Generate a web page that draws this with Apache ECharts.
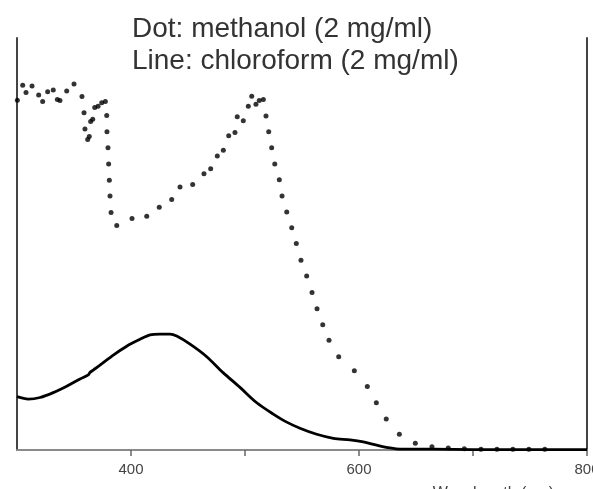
<!DOCTYPE html>
<html>
<head>
<meta charset="utf-8">
<script src="https://cdn.jsdelivr.net/npm/echarts@6/dist/echarts.min.js"></script>
<style>
  html, body { margin: 0; padding: 0; background: #fff; }
  #chart { width: 593px; height: 489px; }
</style>
</head>
<body>
<div id="chart"></div>
<script>
// 标题文字
var titleLines = ['Dot: methanol (2 mg/ml)', 'Line: chloroform (2 mg/ml)']
var axisName = 'Wavelength (nm)'

// 甲醇 (点) 波长 / 吸光度
var methanolX = [300.3, 305.0, 307.9, 313.2, 319.0, 322.5, 326.9, 331.8, 335.4, 337.7,
    343.6, 350.0, 357.0, 358.8, 359.6, 362.0, 363.4, 364.6, 366.4, 368.2,
    371.1, 374.3, 377.5, 378.7, 378.9, 379.8, 380.4, 381.0, 381.6, 382.5,
    387.5, 400.9, 413.8, 424.8, 435.7, 443.0, 454.1, 464.0, 469.9, 475.7,
    481.0, 485.7, 491.2, 493.2, 498.5, 502.9, 505.9, 509.6, 512.5, 516.1,
    518.4, 520.8, 523.4, 526.1, 530.1, 532.5, 536.6, 541.0, 545.0, 549.1,
    554.1, 558.8, 563.2, 568.2, 573.7, 582.2, 595.9, 607.3, 615.2, 623.9,
    635.4, 649.4, 664.0, 678.3, 692.4, 707, 721, 735, 749, 763]
var methanolY = [0.866, 0.903, 0.885, 0.901, 0.879, 0.863, 0.887, 0.891, 0.868, 0.865,
    0.889, 0.906, 0.875, 0.835, 0.795, 0.769, 0.776, 0.813, 0.819, 0.848,
    0.851, 0.860, 0.863, 0.828, 0.788, 0.748, 0.708, 0.668, 0.629, 0.588,
    0.556, 0.573, 0.579, 0.601, 0.620, 0.651, 0.657, 0.684, 0.696, 0.728,
    0.742, 0.778, 0.786, 0.825, 0.815, 0.851, 0.876, 0.856, 0.865, 0.868,
    0.827, 0.788, 0.748, 0.708, 0.669, 0.629, 0.589, 0.550, 0.511, 0.470,
    0.431, 0.390, 0.350, 0.310, 0.272, 0.231, 0.196, 0.157, 0.117, 0.077,
    0.039, 0.017, 0.008, 0.005, 0.003, 0.002, 0.002, 0.002, 0.002, 0.002]

// 氯仿 (线) 波长 / 吸光度
var chloroX = [300, 309.9, 320.2, 331.8, 343.6, 355.3, 362.5, 364.0, 366.9, 372.8,
    384.5, 396.2, 407.9, 416.7, 425.4, 434.2, 440.1, 451.8, 466.4, 481.0,
    495.6, 510.3, 524.8, 536.6, 548.2, 562.9, 577.5, 592.1, 603.8, 615.5,
    627.2, 636.0, 665, 700, 750, 800]
var chloroY = [0.132, 0.126, 0.130, 0.142, 0.158, 0.176, 0.186, 0.192, 0.198, 0.210,
    0.235, 0.257, 0.274, 0.285, 0.287, 0.287, 0.282, 0.262, 0.231, 0.191,
    0.155, 0.117, 0.089, 0.069, 0.054, 0.039, 0.029, 0.025, 0.020, 0.012,
    0.005, 0.002, 0.002, 0.001, 0.001, 0.001]

// x轴刻度
var xMin = 300, xMax = 800, xStep = 100
var labelTicks = [400, 600, 800]

var methanolData = methanolX.map(function (x, i) { return [x, methanolY[i]] })
var chloroData = chloroX.map(function (x, i) { return [x, chloroY[i]] })

var dom = echarts.init(document.getElementById('chart'))

var option = {
    backgroundColor: '#fff',
    animation: false,
    title: [{
        text: titleLines.join('\n'),
        left: 127,
        top: 8,
        textStyle: {
            fontFamily: 'Liberation Sans',
            fontSize: 28,
            fontWeight: 'normal',
            color: '#333',
            lineHeight: 32
        }
    }, {
        text: axisName,
        right: 34,
        top: 481,
        textStyle: {
            fontFamily: 'Liberation Sans',
            fontSize: 16,
            fontWeight: 'normal',
            color: '#444'
        }
    }],
    grid: {
        left: 17,
        right: 6,
        top: 38,
        bottom: 39,
        containLabel: false,
        outerBoundsMode: 'none'
    },
    xAxis: {
        type: 'value',
        min: xMin,
        max: xMax,
        interval: xStep,
        axisLine: { show: true, lineStyle: { color: '#8a8a8a', width: 2 } },
        axisTick: { show: true, length: 6, lineStyle: { color: '#666', width: 1.5 } },
        splitLine: { show: false },
        axisLabel: {
            margin: 12,
            color: '#444',
            fontFamily: 'Liberation Sans',
            fontSize: 15,
            showMinLabel: false,
            formatter: function (v) {
                return labelTicks.indexOf(v) >= 0 ? String(v) : ''
            }
        }
    },
    yAxis: [{
        type: 'value',
        min: 0,
        max: 1.02,
        axisLine: { show: true, lineStyle: { color: '#444', width: 2 } },
        axisTick: { show: false },
        axisLabel: { show: false },
        splitLine: { show: false }
    }, {
        type: 'value',
        min: 0,
        max: 1.02,
        position: 'right',
        axisLine: { show: true, lineStyle: { color: '#444', width: 2 } },
        axisTick: { show: false },
        axisLabel: { show: false },
        splitLine: { show: false }
    }],
    series: [{
        name: 'methanol',
        type: 'scatter',
        symbol: 'circle',
        symbolSize: 5,
        itemStyle: { color: '#000' },
        data: methanolData
    }, {
        name: 'chloroform',
        type: 'line',
        smooth: 0.3,
        showSymbol: false,
        lineStyle: { color: '#000', width: 2.8 },
        data: chloroData
    }]
}

dom.setOption(option)
</script>
</body>
</html>
